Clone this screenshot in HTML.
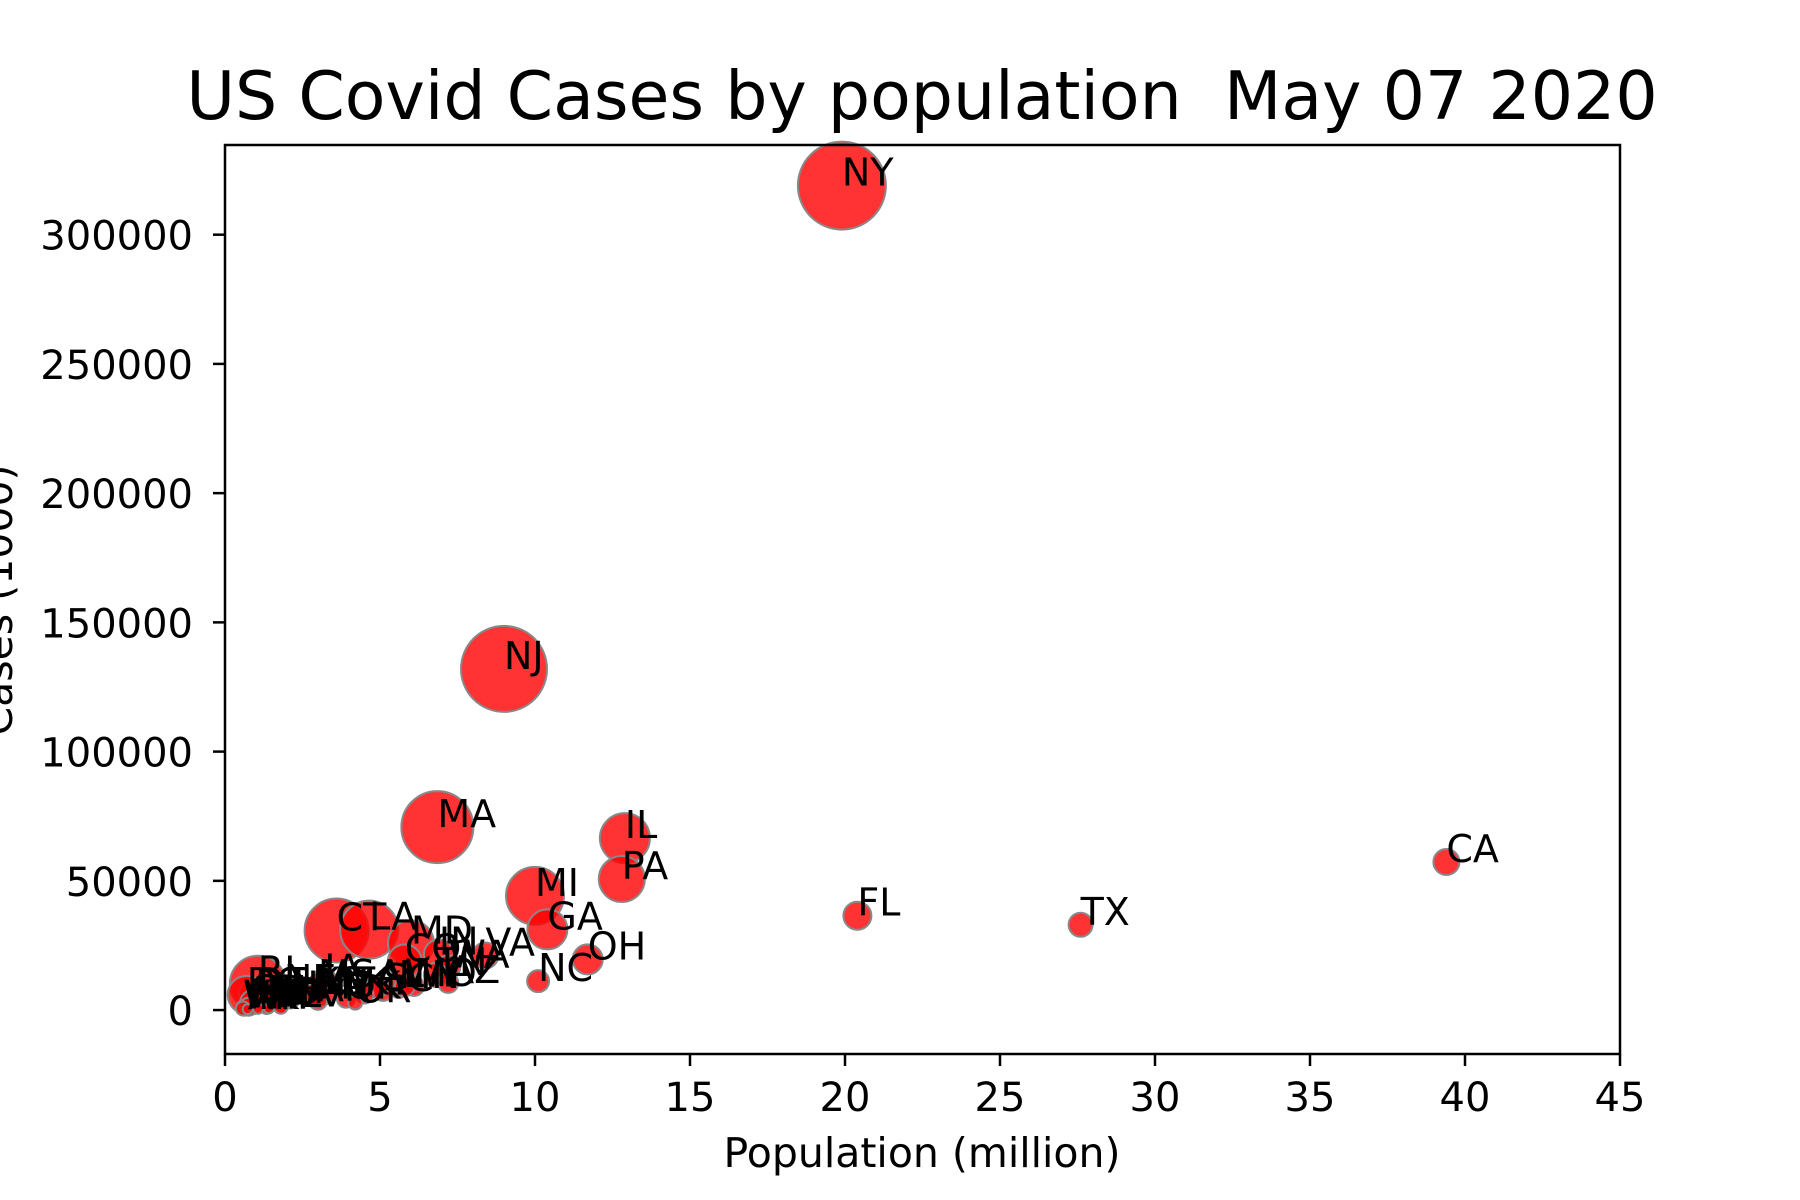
<!DOCTYPE html>
<html><head><meta charset="utf-8"><style>
html,body{margin:0;padding:0;background:#fff;}
svg{display:block;font-family:"DejaVu Sans","Liberation Sans",sans-serif;}
</style></head><body>
<svg id="chart" width="1800" height="1200" viewBox="0 0 1800 1200">
<g id="plot"></g>
</svg>
<script>
const states = ["NY","NJ","MA","IL","PA","MI","CA","FL","TX","GA","OH","NC","CT","LA","MD","IN","VA","CO","WA","TN","MN","AZ","MO","WI","SC","AL","MS","RI","DE","DC","IA","NE","KY","UT","NV","NM","KS","AR","OK","OR","NH","ID","ME","VT","WV","SD","ND","WY","MT","AK","HI"];
const population = [19.9,9.0,6.85,12.9,12.8,10.0,39.4,20.4,27.6,10.4,11.7,10.1,3.6,4.65,6.0,6.9,8.4,5.8,7.2,6.8,5.6,7.2,6.1,5.8,5.1,4.9,3.0,1.06,0.97,0.7,3.2,1.9,4.5,3.2,3.0,2.1,2.9,3.0,3.9,4.2,1.36,1.8,1.34,0.62,1.8,0.88,0.76,0.58,1.07,0.73,1.42];
const cases = [319000,132000,70800,66500,50700,44200,57300,36500,33000,31200,19600,11200,30800,31100,25800,21500,21100,18800,16500,13600,8600,10500,9300,9200,7400,9000,9000,10200,5900,5900,11000,6900,6000,6000,5600,4500,6100,3600,4400,2900,2700,2200,1200,900,1300,3000,1300,600,460,380,630];
const sizes = [44,43,36,25,23,29,13,14,12,20,15,11,32,29,23,15,13,17,12,12,10,10,10,10,10,11,12,28,16,19,13,13,9,10,10,10,11,9,9,7,10,8,7,8,7,12,9,7,5,5,5];
const xTicks = [0,5,10,15,20,25,30,35,40,45];
const yTicks = [0,50000,100000,150000,200000,250000,300000];

const L=225,R=1620,T=145,B=1054;
const xMin=0,xMax=45,yMin=-17000,yMax=334700;
const sx=v=>L+(v-xMin)/(xMax-xMin)*(R-L);
const sy=v=>B-(v-yMin)/(yMax-yMin)*(B-T);
const NS="http://www.w3.org/2000/svg";
const svg=document.getElementById('chart');
const plot=document.getElementById('plot');
function mk(tag,attrs,parent){const e=document.createElementNS(NS,tag);for(const k in attrs)e.setAttribute(k,attrs[k]);(parent||svg).appendChild(e);return e;}

const title=mk('text',{x:922,y:119,'text-anchor':'middle','font-size':66.5,fill:'#000',style:'white-space:pre'});
title.textContent='US Covid Cases by population  May 07 2020';



states.forEach((s,i)=>{
  const c=mk('circle',{cx:sx(population[i]),cy:sy(cases[i]),r:sizes[i],fill:'rgba(255,0,0,0.8)',stroke:'#888','stroke-width':2},plot);
  
  
});
states.forEach((s,i)=>{
  const t=mk('text',{x:sx(population[i]),y:sy(cases[i]),'font-size':38,fill:'#000'},plot);
  t.textContent=s;
  
  
});

const frame=mk('rect',{x:L,y:T,width:R-L,height:B-T,fill:'none',stroke:'#000','stroke-width':2.5});



xTicks.forEach(v=>{
  const x=sx(v);
  const tk=mk('line',{x1:x,x2:x,y1:B,y2:B+12,stroke:'#000','stroke-width':2.5});
  
  
  const t=mk('text',{x:x,y:B+57,'text-anchor':'middle','font-size':40,fill:'#000'});
  t.textContent=v;
  
  
});
yTicks.forEach(v=>{
  const y=sy(v);
  const tk=mk('line',{x1:L-12,x2:L,y1:y,y2:y,stroke:'#000','stroke-width':2.5});
  
  
  const t=mk('text',{x:L-32,y:y+15,'text-anchor':'end','font-size':40,fill:'#000'});
  t.textContent=v;
  
  
});

const xl=mk('text',{x:922,y:1167,'text-anchor':'middle','font-size':41,fill:'#000'});
xl.textContent='Population (million)';


const yl=mk('text',{x:0,y:0,'text-anchor':'middle','font-size':41,fill:'#000',transform:'translate(12,600) rotate(-90)'});
yl.textContent='Cases (1000)';


</script>
</body></html>
